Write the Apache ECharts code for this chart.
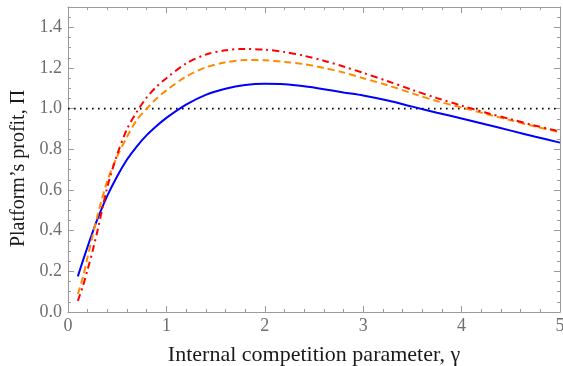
<!DOCTYPE html>
<html><head><meta charset="utf-8">
<script src="https://cdn.jsdelivr.net/npm/echarts@6/dist/echarts.min.js"></script>
<style>html,body{margin:0;padding:0;background:#fff}#c{width:563px;height:366px}</style>
</head><body><div id="c"></div>
<script>
const gammaX = [0.1,0.15,0.2,0.25,0.3,0.4,0.5,0.6,0.7,0.8,0.9,1.0,1.2,1.4,1.6,1.8,2.0,2.2,2.4,2.6,2.8,3.0,3.25,3.5,3.75,4.0,4.25,4.5,4.75,5.0];
const blueVals = [0.175,0.25,0.322,0.392,0.458,0.572,0.668,0.75,0.815,0.87,0.915,0.955,1.02,1.068,1.098,1.116,1.122,1.12,1.11,1.096,1.08,1.065,1.04,1.01,0.98,0.952,0.922,0.892,0.862,0.833];
const orangeVals = [0.088,0.168,0.272,0.375,0.475,0.645,0.765,0.862,0.945,1.0,1.05,1.09,1.158,1.203,1.228,1.239,1.238,1.23,1.219,1.2,1.178,1.15,1.115,1.075,1.037,1.006,0.974,0.943,0.912,0.884];
const redVals = [0.055,0.125,0.21,0.3,0.4,0.615,0.775,0.9,0.985,1.055,1.108,1.15,1.222,1.266,1.287,1.294,1.29,1.279,1.26,1.236,1.207,1.176,1.135,1.092,1.052,1.015,0.98,0.948,0.916,0.888];
const refX = [0, 5];
const refVals = [1, 1];
const xTicks = [0,1,2,3,4,5];
const yTicks = [0.0,0.2,0.4,0.6,0.8,1.0,1.2,1.4];

const pairs = (xs, ys) => xs.map((x, i) => [x, ys[i]]);
const font = 'Liberation Serif';
const frameCol = '#9a9a9a';
const tickLabel = {color:'#6e6e6e', fontFamily:font, fontSize:18};

function mkX(pos, show) {
  return {type:'value', position:pos, min:0, max:5, interval:1,
    axisLine:{show:true, onZero:false, lineStyle:{color:frameCol, width:1}},
    axisTick:{show:true, inside:true, length:6, lineStyle:{color:frameCol}},
    minorTick:{show:true, splitNumber:5, length:3, lineStyle:{color:frameCol}},
    splitLine:{show:false},
    axisLabel:show ? Object.assign({margin:5, formatter:v=>String(v)}, tickLabel) : {show:false},
    name: show ? 'Internal competition parameter, γ' : '',
    nameLocation:'middle', nameGap:43,
    nameTextStyle:{color:'#1a1a1a', fontFamily:font, fontSize:22, verticalAlign:'middle'}};
}
function mkY(pos, show) {
  return {type:'value', position:pos, min:0, max:1.5, interval:0.2,
    axisLine:{show:true, onZero:false, lineStyle:{color:frameCol, width:1}},
    axisTick:{show:true, inside:true, length:6, lineStyle:{color:frameCol}},
    minorTick:{show:true, splitNumber:4, length:3, lineStyle:{color:frameCol}},
    splitLine:{show:false},
    axisLabel:show ? Object.assign({margin:6, formatter:v=>v.toFixed(1), showMaxLabel:false}, tickLabel) : {show:false},
    name: show ? 'Platform’s profit, Π' : '',
    nameLocation:'middle', nameGap:48,
    nameTextStyle:{color:'#1a1a1a', fontFamily:font, fontSize:20, verticalAlign:'middle', padding:[0,18,0,0]}};
}

const chart = echarts.init(document.getElementById('c'), null, {renderer:'canvas'});
chart.setOption({
  animation:false,
  backgroundColor:'#fff',
  grid:{left:68, right:3, top:7, bottom:54, outerBoundsMode:'none', containLabel:false},
  xAxis:[mkX('bottom', true), mkX('top', false)],
  yAxis:[mkY('left', true), mkY('right', false)],
  series:[
    {type:'line', data:pairs(refX, refVals), showSymbol:false, symbol:'none',
      lineStyle:{color:'#000', width:1.6, type:[1.6,4.4]}},
    {type:'line', data:pairs(gammaX, blueVals), smooth:0.3, symbol:'none',
      lineStyle:{color:'#0000ff', width:2}},
    {type:'line', data:pairs(gammaX, orangeVals), smooth:0.3, symbol:'none',
      lineStyle:{color:'#ff8c00', width:2, type:[7,4]}},
    {type:'line', data:pairs(gammaX, redVals), smooth:0.3, symbol:'none',
      lineStyle:{color:'#ff0000', width:2, type:[7,4,2,4]}}
  ]
});
</script></body></html>
